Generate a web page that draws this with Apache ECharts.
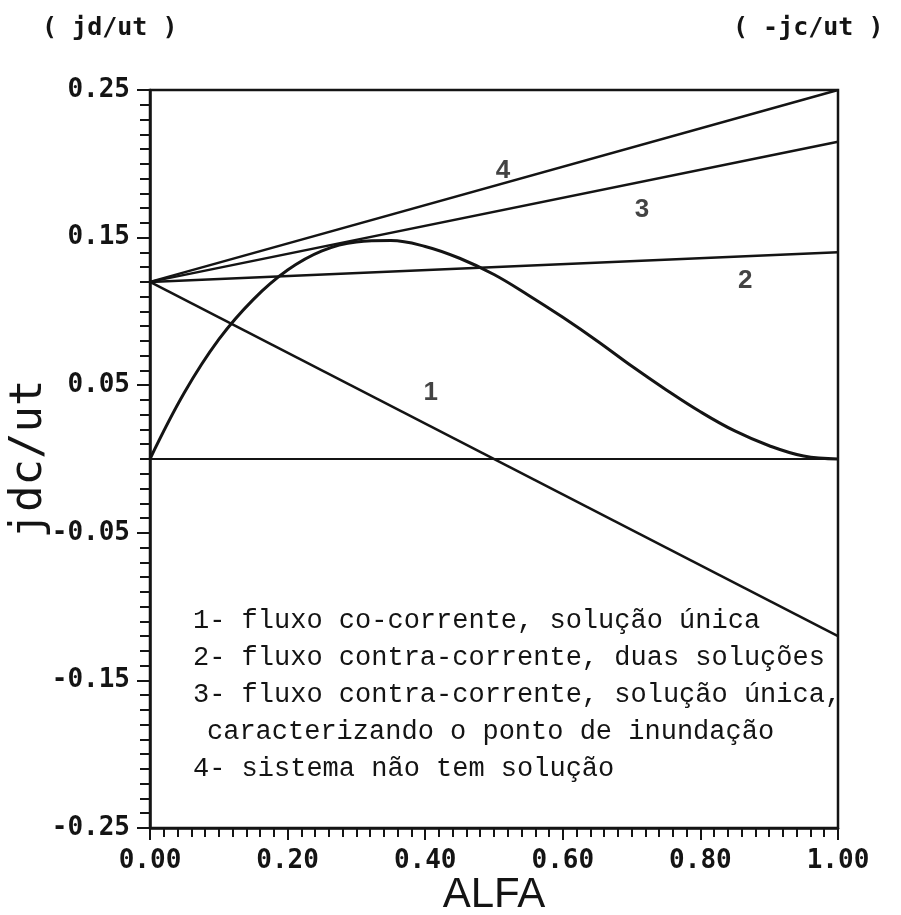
<!DOCTYPE html>
<html>
<head>
<meta charset="utf-8">
<script src="https://cdn.jsdelivr.net/npm/echarts@6/dist/echarts.min.js"></script>
<style>
  html, body { margin: 0; padding: 0; background: #fff; }
  #main { width: 901px; height: 915px; }
</style>
</head>
<body>
<div id="main"></div>
<script>
var dom = document.getElementById('main');
var myChart = echarts.init(dom, null, { renderer: 'canvas' });

// alfa values and the curve jd/ut
var alfa = [0, 0.05, 0.10, 0.15, 0.20, 0.25, 0.30, 0.35, 0.40, 0.45, 0.50,
            0.55, 0.60, 0.65, 0.70, 0.75, 0.80, 0.85, 0.90, 0.95, 1.00];
var jdCurve = [0, 0.045, 0.081, 0.108, 0.128, 0.141, 0.147, 0.148, 0.144, 0.136, 0.125,
               0.111, 0.096, 0.080, 0.063, 0.047, 0.032, 0.019, 0.009, 0.002, 0];

// straight lines (-jc/ut) : value at alfa = 0 and alfa = 1
var lineEnds = [0, 1];
var line1 = [0.12, -0.12];
var line2 = [0.12, 0.14];
var line3 = [0.12, 0.215];
var line4 = [0.12, 0.25];
var zeroLine = [0, 0];

// number labels near the lines [alfa, value, text]
var lineLabels = [
    [0.513, 0.195, '4'],
    [0.715, 0.169, '3'],
    [0.865, 0.121, '2'],
    [0.408, 0.045, '1']
];

var legendLines = [
    '1- fluxo co-corrente, solução única',
    '2- fluxo contra-corrente, duas soluções',
    '3- fluxo contra-corrente, solução única,',
    'caracterizando o ponto de inundação',
    '4- sistema não tem solução'
];

function pairs(xs, ys) {
    return xs.map(function (x, i) { return [x, ys[i]]; });
}

var ink = '#141414';
var tickFont = {
    color: ink,
    fontFamily: 'DejaVu Sans Mono',
    fontWeight: 'bold',
    fontSize: 26
};

function lineSeries(ys, w) {
    return {
        type: 'line',
        data: pairs(lineEnds, ys),
        showSymbol: false,
        symbol: 'none',
        lineStyle: { color: ink, width: w || 2.5 },
        silent: true,
        z: 3
    };
}

var legendGraphics = legendLines.map(function (t, i) {
    return {
        type: 'text',
        left: i === 3 ? 207 : 193,
        top: 607 + i * 37,
        style: {
            text: t,
            fill: ink,
            font: '27px "Liberation Mono", monospace'
        }
    };
});

var option = {
    backgroundColor: '#ffffff',
    animation: false,
    grid: {
        left: 150,
        right: 63,
        top: 90,
        bottom: 87,
        containLabel: false,
        outerBoundsMode: 'none',
        show: true,
        borderColor: ink,
        borderWidth: 2.5,
        backgroundColor: 'transparent'
    },
    xAxis: {
        type: 'value',
        min: 0,
        max: 1,
        interval: 0.2,
        name: 'ALFA',
        nameLocation: 'middle',
        nameMoveOverlap: false,
        nameGap: 46,
        nameTextStyle: {
            color: ink,
            fontFamily: 'Liberation Sans',
            fontSize: 42
        },
        axisLine: { onZero: false, lineStyle: { color: ink, width: 2.5 } },
        axisTick: { inside: false, length: 12, lineStyle: { color: ink, width: 2 } },
        minorTick: { show: true, splitNumber: 10, length: 9, lineStyle: { color: ink, width: 2 } },
        splitLine: { show: false },
        axisLabel: Object.assign({ margin: 20, formatter: function (v) { return v.toFixed(2); } }, tickFont)
    },
    yAxis: {
        type: 'value',
        min: -0.25,
        max: 0.25,
        interval: 0.1,
        name: 'jdc/ut',
        nameLocation: 'middle',
        nameMoveOverlap: false,
        nameGap: 98,
        nameTextStyle: {
            color: ink,
            fontFamily: 'DejaVu Sans Mono',
            fontSize: 44
        },
        axisLine: { onZero: false, lineStyle: { color: ink, width: 2.5 } },
        axisTick: { inside: false, length: 13, lineStyle: { color: ink, width: 2 } },
        minorTick: { show: true, splitNumber: 10, length: 10, lineStyle: { color: ink, width: 2 } },
        splitLine: { show: false },
        axisLabel: Object.assign({ margin: 20, formatter: function (v) { return v.toFixed(2); } }, tickFont)
    },
    graphic: [
        {
            type: 'text',
            left: 42,
            top: 16,
            style: { text: '( jd/ut )', fill: ink, font: 'bold 25px "DejaVu Sans Mono", monospace' }
        },
        {
            type: 'text',
            left: 733,
            top: 16,
            style: { text: '( -jc/ut )', fill: ink, font: 'bold 25px "DejaVu Sans Mono", monospace' }
        }
    ].concat(legendGraphics),
    series: [
        {
            type: 'line',
            data: pairs(alfa, jdCurve),
            smooth: 0.4,
            showSymbol: false,
            symbol: 'none',
            lineStyle: { color: ink, width: 3 },
            silent: true,
            z: 3
        },
        lineSeries(line1),
        lineSeries(line2),
        lineSeries(line3),
        lineSeries(line4),
        lineSeries(zeroLine, 2),
        {
            type: 'scatter',
            symbolSize: 0,
            data: lineLabels,
            silent: true,
            label: {
                show: true,
                position: 'inside',
                formatter: function (p) { return p.value[2]; },
                color: ink,
                fontFamily: 'Liberation Sans',
                fontWeight: 'bold',
                fontSize: 26
            }
        }
    ]
};

myChart.setOption(option);
window.addEventListener('resize', myChart.resize);
</script>
</body>
</html>
